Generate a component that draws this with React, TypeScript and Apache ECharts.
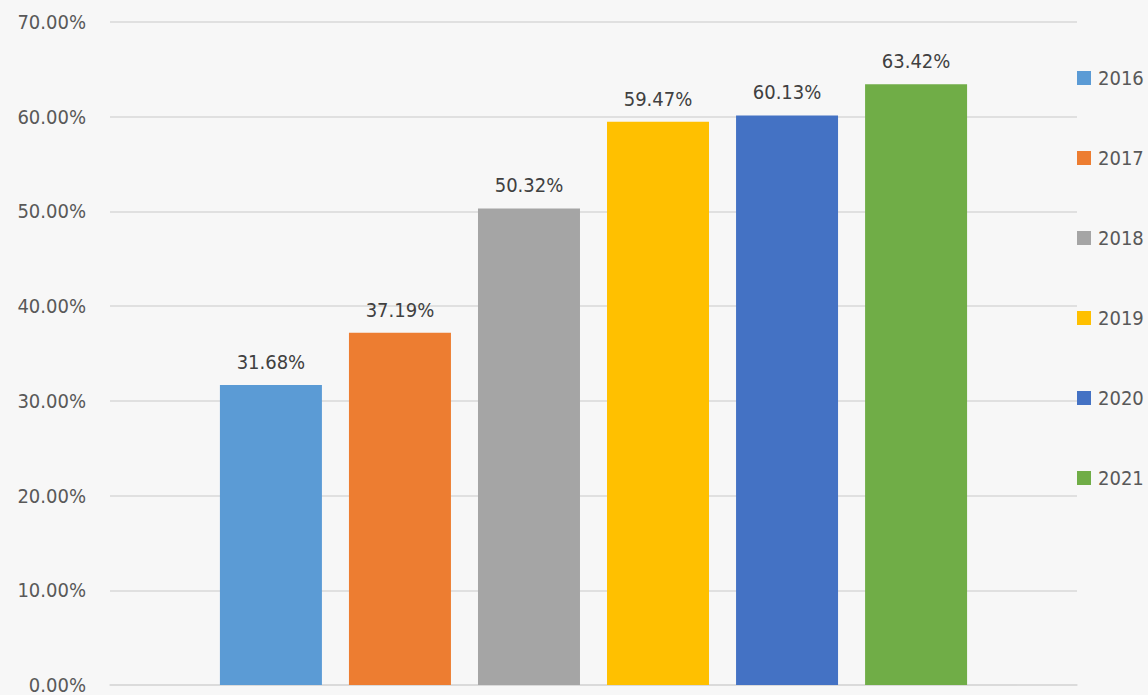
import React, { useEffect, useRef } from "react";
import * as echarts from "echarts";

const years = ["2016", "2017", "2018", "2019", "2020", "2021"];
const values = [31.68, 37.19, 50.32, 59.47, 60.13, 63.42];
const colors = ["#5B9BD5", "#ED7D31", "#A5A5A5", "#FFC000", "#4472C4", "#70AD47"];
const categories = [""];

export default function App() {
  const ref = useRef<HTMLDivElement>(null);
  useEffect(() => {
    if (!ref.current) return;
    const chart = echarts.init(ref.current, null, { renderer: "svg" });
    const font = "'DejaVu Sans Condensed', 'Open Sans', sans-serif";
    chart.setOption({
      animation: false,
      backgroundColor: "#f7f7f7",
      textStyle: { fontFamily: font },
      grid: { left: 110, right: 71, top: 22, bottom: 9, containLabel: false },
      legend: {
        orient: "vertical",
        left: 1077,
        top: 68,
        padding: 0,
        itemWidth: 14,
        itemHeight: 14,
        itemGap: 60,
        icon: "rect",
        textStyle: { fontSize: 20, color: "#595959", fontFamily: font, padding: [0, 0, 0, 2] },
        data: years,
      },
      xAxis: {
        type: "category",
        data: categories,
        axisLine: { show: true, lineStyle: { color: "#d9d9d9", width: 1.5 } },
        axisTick: { show: false },
        axisLabel: { show: false },
      },
      yAxis: {
        type: "value",
        min: 0,
        max: 70,
        interval: 10,
        axisLine: { show: false },
        axisTick: { show: false },
        axisLabel: {
          margin: 24,
          fontSize: 20,
          color: "#595959",
          fontFamily: font,
          formatter: (v: number) => v.toFixed(2) + "%",
        },
        splitLine: { lineStyle: { color: "#d9d9d9", width: 1.5 } },
      },
      series: years.map((y, i) => ({
        name: y,
        type: "bar",
        data: [values[i]],
        barWidth: 102,
        barGap: "26.5%",
        itemStyle: { color: colors[i] },
        label: {
          show: true,
          position: "top",
          distance: 13,
          fontSize: 20,
          color: "#404040",
          fontFamily: font,
          formatter: (p: any) => p.value.toFixed(2) + "%",
        },
      })),
    });
    return () => chart.dispose();
  }, []);
  return <div ref={ref} style={{ width: 1148, height: 695, position: "absolute", left: 0, top: 0 }} />;
}
